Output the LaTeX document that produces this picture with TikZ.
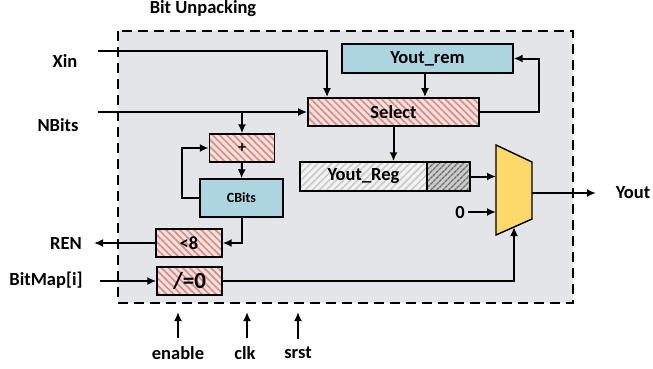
\documentclass[tikz,border=0pt]{standalone}
\usepackage{fontspec}
\setmainfont{Carlito}
\usetikzlibrary{arrows.meta,patterns.meta}
\definecolor{boxgray}{HTML}{E4E5E8}
\definecolor{regblue}{HTML}{ADD5DF}
\definecolor{hatchred}{HTML}{D98E87}
\definecolor{hatchpink}{HTML}{F7E1DE}
\definecolor{reggray}{HTML}{C9C9C9}
\definecolor{regdark}{HTML}{6E6E6E}
\definecolor{muxyellow}{HTML}{FDD86B}
\tikzset{
	hatch/.style    = {draw, line width=1.4pt, rectangle, inner sep=0pt,
		preaction={fill=hatchpink},
		pattern={Lines[angle=-45,distance=5pt,line width=1.7pt]}, pattern color=hatchred},
	regbox/.style   = {draw, line width=1.4pt, rectangle, inner sep=0pt, fill=regblue},
	ybox/.style     = {draw, line width=1.4pt, rectangle, inner sep=0pt,
		preaction={fill=white!95!black},
		pattern={Lines[angle=45,distance=5pt,line width=1.5pt]}, pattern color=reggray},
	ytail/.style    = {draw, line width=1.4pt, rectangle, inner sep=0pt,
		preaction={fill=white!80!black},
		pattern={Lines[angle=45,distance=4pt,line width=1.5pt]}, pattern color=regdark},
	mux/.style      = {draw, line width=1.4pt, fill=muxyellow},
	txt/.style      = {inner sep=0pt}
}
\newcommand{\lbl}{\fontsize{18.5}{22}\selectfont\bfseries}

\begin{document}
\begin{tikzpicture}[x=1pt, y=-1pt, line width=2pt, >={Latex[length=9pt,width=8pt]}]
	\useasboundingbox (0,0) rectangle (653,368);
	% frame
	\draw[fill=boxgray, dash pattern=on 10pt off 6pt] (118,31) rectangle (573,303);
	\node at (203,9)[txt] (title) {\lbl Bit Unpacking};
	
	\draw
	node at (393.5,112)[hatch, minimum width=171pt, minimum height=28pt] (sel) {\lbl Select}
	node at (427.5,58.5)[regbox, minimum width=171pt, minimum height=29pt] (rem) {\lbl Yout\_rem}
	node at (363.5,176.5)[ybox, minimum width=127pt, minimum height=29pt] (reg) {\lbl Yout\_Reg}
	node at (448.5,176.5)[ytail, minimum width=43pt, minimum height=29pt] (regt) {}
	node at (242,148)[hatch, minimum width=65pt, minimum height=28pt] (plus) {\fontsize{16}{18}\selectfont\bfseries +}
	node at (241.5,198)[regbox, minimum width=83pt, minimum height=38pt] (cbits) {\fontsize{14}{16}\selectfont\bfseries CBits}
	node at (189,243)[hatch, minimum width=66pt, minimum height=28pt] (lt) {\lbl <8}
	node at (189.5,281)[hatch, minimum width=65pt, minimum height=28pt] (neq) {\fontsize{23}{26}\selectfont\bfseries /=0};
	
	% multiplexer
	\draw[mux] (496,145) -- (532,162) -- (532,219) -- (496,235) -- cycle;
	\coordinate (mux-in1) at (496,176.5);
	\coordinate (mux-in0) at (496,212);
	\coordinate (mux-sel) at (514,227);
	\coordinate (mux-out) at (532,193);
	
	% outer labels
	\node at (65,61)[txt] (xin) {\lbl Xin};
	\node at (58,125)[txt] (nbits) {\lbl NBits};
	\node at (66,243)[txt] (ren) {\lbl REN};
	\node at (46,280)[txt] (bitmap) {\lbl BitMap[i]};
	\node at (633,193)[txt] (yout) {\lbl Yout};
	\node at (460,212)[txt] (zero) {\lbl 0};
	\node at (178,353)[txt] (enable) {\lbl enable};
	\node at (245,353)[txt] (clk) {\lbl clk};
	\node at (298,353)[txt] (srst) {\lbl srst};
	
	\coordinate (xin-in) at (98,51);
	\coordinate (xin-turn) at (327,51);
	\coordinate (nbits-in) at (98,112);
	\coordinate (ren-out) at (94,243);
	\coordinate (bm-in) at (100,281);
	\coordinate (yout-end) at (596,193);
	
	\draw[->] (xin-in) -- (xin-turn) -- (xin-turn |- sel.north);
	\draw[->] (nbits-in) -- (sel.west);
	\draw[->] (plus.north |- nbits-in) -- (plus.north);
	\draw[->] (rem.south -| 425,0) -- (sel.north -| 425,0);
	\draw[->] (sel.east) -- ++(59,0) |- (rem.east);
	\draw[->] (sel.south) -- (sel.south |- reg.north);
	\draw[->] (regt.east) -- (mux-in1);
	\draw[->] (zero.east) ++(2,0) -- (mux-in0);
	\draw[->] (mux-out) -- (yout-end);
	\draw[->] (plus.south) -- (cbits.north);
	\draw[->] (cbits.west) -- ++(-17,0) |- (plus.west);
	\draw[->] (cbits.south) |- (lt.east);
	\draw[->] (lt.west) -- (ren-out);
	\draw[->] (bm-in) -- (neq.west);
	\draw[->] (neq.east) -| (mux-sel);
	\draw[->] ([yshift=7pt]enable.north) -- (enable.north |- 0,312);
	\draw[->] ([yshift=7pt]clk.north -| 247,0) -- (247,312);
	\draw[->] ([yshift=7pt]srst.north) -- (srst.north |- 0,312);
	
\end{tikzpicture}
\end{document}
